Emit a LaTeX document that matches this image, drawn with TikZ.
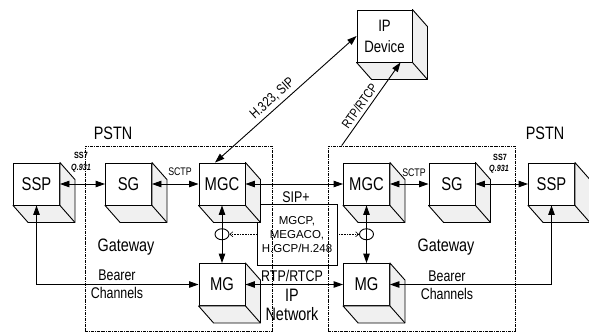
\documentclass[tikz,border=0pt]{standalone}
\usepackage{fontspec}
\setmainfont{Liberation Sans}
\newfontfamily\cnd[FakeStretch=0.8]{Liberation Sans}
\usetikzlibrary{arrows.meta,calc,shapes.geometric}

\tikzset{
  box/.style={draw, line width=0.9pt, fill=white, minimum width=46pt, minimum height=42pt,
    inner sep=0pt, font=\cnd\fontsize{18.5}{20}\selectfont},
  side/.style={draw, line width=0.9pt, fill=black!6, line join=round},
  gw/.style={draw, line width=0.7pt, dash pattern=on 3pt off 1pt on 0.8pt off 1pt,
    minimum width=187pt, minimum height=185pt, inner sep=0pt},
  dbl/.style={line width=0.9pt, {Triangle[length=9.5pt,width=6.5pt]}-{Triangle[length=9.5pt,width=6.5pt]}},
  one/.style={line width=0.9pt, -{Triangle[length=9.5pt,width=6.5pt]}},
  tip/.style={line width=0.6pt, densely dotted, -{Straight Barb[length=3pt,width=5pt]}},
  ring/.style={draw, line width=0.9pt, ellipse, minimum width=14pt, minimum height=11pt, inner sep=0pt},
  big/.style={inner sep=0pt, font=\cnd\fontsize{18}{20}\selectfont},
  mid/.style={inner sep=0pt, font=\cnd\fontsize{15.5}{17}\selectfont},
  small/.style={inner sep=0pt, font=\cnd\fontsize{11}{12}\selectfont},
  tiny/.style={inner sep=0pt, font=\cnd\bfseries\fontsize{9}{10}\selectfont},
}

% side and bottom faces of a cube whose front face is node #1
\newcommand\cubesides[1]{%
  \path[side] (#1.north east) -- ++(15,17) -- ($(#1.south east)+(15,17)$)
    -- ($(#1.south west)+(15,17)$) -- (#1.south west) -- (#1.south east) -- cycle;
  \draw[line width=0.9pt] (#1.south east) -- ++(15,17);}

\begin{document}
\begin{tikzpicture}[x=1pt,y=-1pt]
\useasboundingbox (0,0) rectangle (589,333);

% gateway enclosures
\node[gw] (gwL) at (178.5,238.5) {};
\node[gw] (gwR) at (421.5,238.5) {};

% control protocol box
\node[draw, line width=0.8pt, minimum width=80pt, minimum height=61pt, inner sep=0pt,
  align=center, font=\fontsize{11.5}{14}\selectfont] (ctl) at (297,234.5)
  {MGCP,\\MEGACO,\\H.GCP/H.248};

% equipment cubes
\node[box] (sspL) at (36.5,184) {SSP};
\node[box] (sgL)  at (128.5,184) {SG};
\node[box] (mgcL) at (222,184) {MGC};
\node[box] (mgL)  at (222,284.5) {MG};
\node[box] (mgcR) at (366.5,184) {MGC};
\node[box] (sgR)  at (452,184) {SG};
\node[box] (sspR) at (551.5,184) {SSP};
\node[box] (mgR)  at (366.5,284.5) {MG};
\node[box, minimum width=55pt, minimum height=52pt, align=center,
  font=\cnd\fontsize{16.5}{21}\selectfont] (ipd) at (384.5,36) {IP\\Device};
\foreach \n in {sspL,sgL,mgcL,mgL,mgcR,sgR,sspR,mgR,ipd} {\cubesides{\n}}

% region and protocol labels
\node[big] (pstnL) at (113,133) {PSTN};
\node[big] (pstnR) at (545,133) {PSTN};
\node[big] (gwtL) at (126,247) {Gateway};
\node[big] (gwtR) at (446,247) {Gateway};
\node[tiny] (ss7L) at (81,155) {SS7};
\node[tiny, font=\cnd\bfseries\itshape\fontsize{9}{10}\selectfont] (q9L) at (81,168) {Q.931};
\node[tiny] (ss7R) at (500,157) {SS7};
\node[tiny, font=\cnd\bfseries\itshape\fontsize{9}{10}\selectfont] (q9R) at (499,169) {Q.931};
\node[small] (sctpL) at (180,172) {SCTP};
\node[small] (sctpR) at (414,173) {SCTP};
\node[mid] (sipp) at (296,197) {SIP+};
\node[mid] (rtpM) at (292,276) {RTP/RTCP};
\node[big] (ipN) at (292,295) {IP};
\node[big] (netN) at (292,314) {Network};
\node[mid] (bearL) at (117,275) {Bearer};
\node[mid] (chanL) at (117,293) {Channels};
\node[mid] (bearR) at (447,276) {Bearer};
\node[mid] (chanR) at (447,294) {Channels};

% signalling links
\draw[dbl] (sspL.east) -- (sgL.west);
\draw[dbl] (sgL.east) -- (mgcL.west);
\draw[dbl] (mgcL.east) -- (mgcR.west);
\draw[dbl] (mgcR.east) -- (sgR.west);
\draw[dbl] (sgR.east) -- (sspR.west);

% media links
\draw[dbl] (mgL.east) -- (mgR.west);
\draw[dbl] (mgL.west) -| (sspL.south);
\draw[dbl] (mgR.east) -| (sspR.south);

% links to the IP device
\draw[dbl] ($(mgcL.north)+(-7,0)$) -- node[sloped, above, pos=0.45,
  font=\cnd\fontsize{14}{15}\selectfont] (h323) {H.323, SIP} (ipd.west);
\coordinate (rtpS) at ($(gwR.north west)+(14,0)$);
\draw[one] (rtpS) -- node[sloped, above, pos=0.42,
  font=\cnd\fontsize{13}{14}\selectfont] (rtpI) {RTP/RTCP} ($(ipd.south)+(16,0)$);

% MGC-MG control with tap points
\draw[dbl] (mgcL.south) -- (mgL.north);
\draw[dbl] (mgcR.south) -- (mgR.north);
\node[ring] (ringL) at ($(mgcL.south)!0.5!(mgL.north)$) {};
\node[ring] (ringR) at ($(mgcR.south)!0.5!(mgR.north)$) {};
\draw[tip] (ctl.west |- ringL) -- (ringL.east);
\draw[tip] (ctl.east |- ringR) -- (ringR.west);
\end{tikzpicture}
\end{document}
